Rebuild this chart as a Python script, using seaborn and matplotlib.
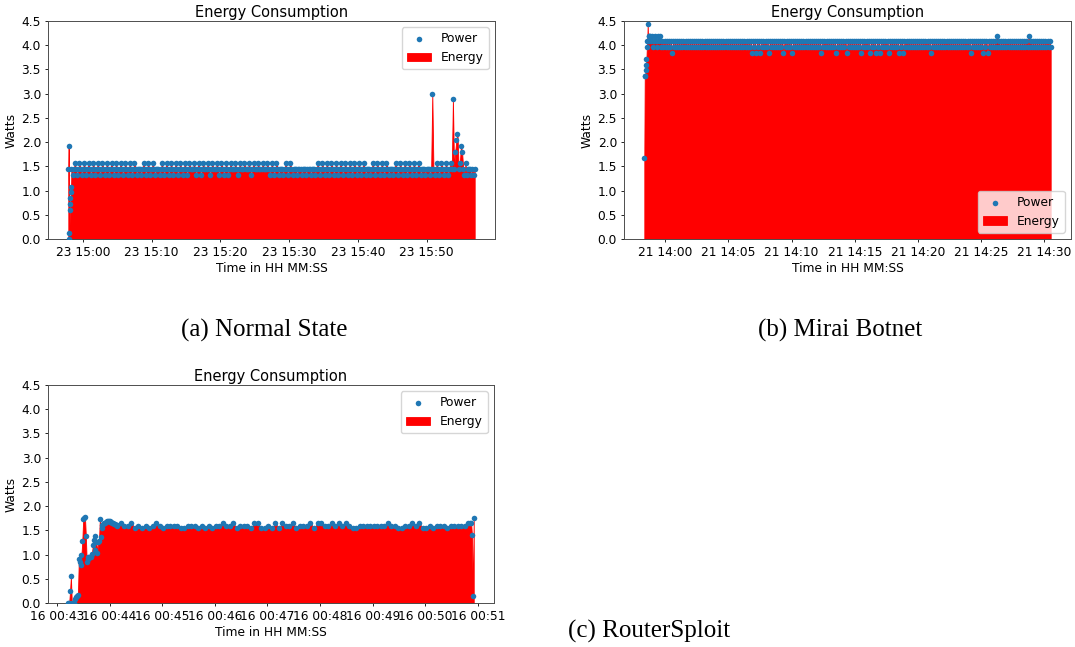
import numpy as np
import pandas as pd
import matplotlib
matplotlib.use("Agg")
import matplotlib.pyplot as plt
import matplotlib.dates as mdates
import seaborn as sns

# ---------------- data (Watts) ----------------
# (a) Normal State: start 23rd 14:57:52; head sampled every 3 s, body every 10 s
a_start = "2021-06-23 14:57:52"
a_head = [1.44, 1.92, 0.12, 0.00, 0.60, 0.72, 0.84, 0.96, 1.08]
a_body = [
    1.44, 1.32, 1.44, 1.56, 1.44, 1.32, 1.44, 1.56, 1.44, 1.32, 1.44, 1.56, 1.44, 1.32, 1.44, 1.56,
    1.44, 1.32, 1.44, 1.56, 1.44, 1.32, 1.44, 1.56, 1.44, 1.32, 1.44, 1.56, 1.44, 1.32, 1.44, 1.56,
    1.44, 1.32, 1.44, 1.56, 1.44, 1.32, 1.44, 1.56, 1.44, 1.32, 1.44, 1.56, 1.44, 1.32, 1.44, 1.56,
    1.44, 1.32, 1.44, 1.56, 1.44, 1.32, 1.44, 1.56, 1.44, 1.32, 1.44, 1.44, 1.44, 1.32, 1.44, 1.56,
    1.44, 1.32, 1.44, 1.56, 1.44, 1.32, 1.44, 1.56, 1.44, 1.32, 1.44, 1.44, 1.44, 1.32, 1.44, 1.56,
    1.44, 1.32, 1.44, 1.56, 1.44, 1.32, 1.44, 1.56, 1.44, 1.32, 1.44, 1.56, 1.44, 1.32, 1.44, 1.56,
    1.44, 1.32, 1.44, 1.56, 1.44, 1.32, 1.44, 1.56, 1.44, 1.44, 1.44, 1.56, 1.44, 1.32, 1.44, 1.56,
    1.44, 1.32, 1.44, 1.56, 1.44, 1.44, 1.44, 1.56, 1.44, 1.32, 1.44, 1.56, 1.44, 1.44, 1.44, 1.56,
    1.44, 1.32, 1.44, 1.56, 1.44, 1.32, 1.44, 1.56, 1.44, 1.32, 1.44, 1.56, 1.44, 1.44, 1.44, 1.56,
    1.44, 1.32, 1.44, 1.56, 1.44, 1.44, 1.44, 1.56, 1.44, 1.44, 1.44, 1.56, 1.44, 1.32, 1.44, 1.56,
    1.44, 1.44, 1.44, 1.56, 1.44, 1.44, 1.44, 1.56, 1.44, 1.44, 1.44, 1.56, 1.44, 1.32, 1.44, 1.56,
    1.44, 1.32, 1.44, 1.56, 1.44, 1.32, 1.44, 1.44, 1.44, 1.32, 1.44, 1.56, 1.44, 1.32, 1.44, 1.56,
    1.44, 1.32, 1.44, 1.44, 1.44, 1.32, 1.44, 1.44, 1.44, 1.32, 1.44, 1.44, 1.44, 1.32, 1.44, 1.44,
    1.44, 1.32, 1.44, 1.44, 1.44, 1.32, 1.44, 1.56, 1.44, 1.32, 1.44, 1.56, 1.44, 1.32, 1.44, 1.56,
    1.44, 1.32, 1.44, 1.56, 1.44, 1.32, 1.44, 1.56, 1.44, 1.32, 1.44, 1.56, 1.44, 1.32, 1.44, 1.56,
    1.44, 1.32, 1.44, 1.56, 1.44, 1.32, 1.44, 1.56, 1.44, 1.32, 1.44, 1.56, 1.44, 1.32, 1.44, 1.56,
    1.44, 1.32, 1.44, 1.44, 1.44, 1.32, 1.44, 1.56, 1.44, 1.32, 1.44, 1.56, 1.44, 1.32, 1.44, 1.56,
    1.44, 1.32, 1.44, 1.56, 1.44, 1.32, 1.44, 1.44, 1.44, 1.32, 1.44, 1.56, 1.44, 1.32, 1.44, 1.56,
    1.44, 1.32, 1.44, 1.56, 1.44, 1.32, 1.44, 1.56, 1.44, 1.32, 1.44, 1.56, 1.44, 1.32, 1.44, 1.56,
    1.44, 1.32, 1.44, 1.44, 1.44, 1.32, 1.44, 1.44, 1.44, 1.32, 1.44, 3.00, 1.44, 1.32, 1.44, 1.56,
    1.44, 1.32, 1.44, 1.56, 1.44, 1.32, 1.44, 1.56, 1.44, 1.32, 1.44, 1.56, 1.44, 2.89, 1.44, 1.80,
    2.04, 2.17, 1.44, 1.56, 1.92, 1.80, 1.44, 1.32, 1.56, 1.32, 1.44, 1.44, 1.44, 1.32, 1.44, 1.32,
    1.44,
]

# (b) Mirai Botnet: start 21st 13:58:20; head every 2 s, body every 5 s
b_start = "2021-06-21 13:58:20"
b_head = [1.68, 3.36, 3.36, 3.48, 3.60, 3.72, 3.96, 4.08, 4.44, 4.08, 4.20, 4.08, 4.20]
b_body = [
    4.20, 4.08, 4.20, 3.96, 4.08, 4.20, 4.08, 3.96, 4.20, 4.08, 4.20, 3.96, 4.08, 3.96, 4.08, 3.96,
    4.08, 3.96, 4.08, 3.96, 4.08, 3.84, 4.08, 3.96, 4.08, 3.96, 4.08, 3.96, 4.08, 3.96, 4.08, 3.96,
    4.08, 3.96, 4.08, 3.96, 4.08, 3.96, 4.08, 3.96, 4.08, 3.96, 4.08, 3.96, 4.08, 3.96, 4.08, 3.96,
    4.08, 3.96, 4.08, 3.96, 4.08, 3.96, 4.08, 3.96, 4.08, 3.96, 4.08, 3.96, 4.08, 3.96, 4.08, 3.96,
    4.08, 3.96, 4.08, 3.96, 4.08, 3.96, 4.08, 3.96, 4.08, 3.96, 4.08, 3.96, 4.08, 3.96, 4.08, 3.96,
    4.08, 3.96, 4.08, 3.96, 4.08, 3.96, 4.08, 3.96, 4.08, 3.96, 4.08, 3.96, 4.08, 3.96, 4.08, 3.96,
    4.08, 3.84, 4.08, 3.96, 4.08, 3.84, 4.08, 3.96, 4.08, 3.84, 4.08, 3.96, 4.08, 3.96, 4.08, 3.96,
    4.08, 3.84, 4.08, 3.96, 4.08, 3.96, 4.08, 3.96, 4.08, 3.96, 4.08, 3.96, 4.08, 3.96, 4.08, 3.84,
    4.08, 3.96, 4.08, 3.96, 4.08, 3.96, 4.08, 3.84, 4.08, 3.96, 4.08, 3.96, 4.08, 3.96, 4.08, 3.96,
    4.08, 3.96, 4.08, 3.96, 4.08, 3.96, 4.08, 3.96, 4.08, 3.96, 4.08, 3.96, 4.08, 3.96, 4.08, 3.96,
    4.08, 3.96, 4.08, 3.84, 4.08, 3.96, 4.08, 3.96, 4.08, 3.96, 4.08, 3.96, 4.08, 3.96, 4.08, 3.96,
    4.08, 3.84, 4.08, 3.96, 4.08, 3.96, 4.08, 3.96, 4.08, 3.96, 4.08, 3.84, 4.08, 3.96, 4.08, 3.96,
    4.08, 3.96, 4.08, 3.96, 4.08, 3.96, 4.08, 3.96, 4.08, 3.84, 4.08, 3.96, 4.08, 3.96, 4.08, 3.96,
    4.08, 3.84, 4.08, 3.96, 4.08, 3.96, 4.08, 3.84, 4.08, 3.96, 4.08, 3.84, 4.08, 3.96, 4.08, 3.96,
    4.08, 3.96, 4.08, 3.84, 4.08, 3.96, 4.08, 3.96, 4.08, 3.96, 4.08, 3.96, 4.08, 3.84, 4.08, 3.96,
    4.08, 3.84, 4.08, 3.96, 4.08, 3.96, 4.08, 3.96, 4.08, 3.96, 4.08, 3.96, 4.08, 3.96, 4.08, 3.96,
    4.08, 3.96, 4.08, 3.96, 4.08, 3.96, 4.08, 3.96, 4.08, 3.96, 4.08, 3.84, 4.08, 3.96, 4.08, 3.96,
    4.08, 3.96, 4.08, 3.96, 4.08, 3.96, 4.08, 3.96, 4.08, 3.96, 4.08, 3.96, 4.08, 3.96, 4.08, 3.96,
    4.08, 3.96, 4.08, 3.96, 4.08, 3.96, 4.08, 3.96, 4.08, 3.96, 4.08, 3.96, 4.08, 3.96, 4.08, 3.96,
    4.08, 3.84, 4.08, 3.96, 4.08, 3.96, 4.08, 3.96, 4.08, 3.96, 4.08, 3.96, 4.08, 3.84, 4.08, 3.96,
    4.08, 3.84, 4.08, 3.96, 4.08, 3.96, 4.08, 3.96, 4.08, 3.96, 4.20, 3.96, 4.08, 3.96, 4.08, 3.96,
    4.08, 3.96, 4.08, 3.96, 4.08, 3.96, 4.08, 3.96, 4.08, 3.96, 4.08, 3.96, 4.08, 3.96, 4.08, 3.96,
    4.08, 3.96, 4.08, 3.96, 4.08, 3.96, 4.08, 3.96, 4.20, 3.96, 4.08, 3.96, 4.08, 3.96, 4.08, 3.96,
    4.08, 3.96, 4.08, 3.96, 4.08, 3.96, 4.08, 3.96, 4.08, 3.96, 4.08, 3.96, 4.08, 3.96,
]

# (c) RouterSploit: start 16th 00:43:13; head every 1 s, body every 4 s, tail every 1 s
c_start = "2021-06-16 00:43:13"
c_head = [
    0.00, 0.00, 0.24, 0.55, 0.00, 0.00, 0.00, 0.00, 0.09, 0.12,
    0.14, 0.16, 0.90, 0.85, 0.78, 0.99, 1.29, 1.74, 1.76, 1.78,
    1.39, 0.85, 0.90, 0.95, 0.94, 0.95, 0.95, 1.02, 1.20, 1.30,
    1.39, 1.10, 1.25, 1.04, 1.25, 1.29, 1.74, 1.37, 1.55, 1.62,
    1.64, 1.66, 1.66, 1.68, 1.69, 1.69, 1.69, 1.69, 1.68, 1.68,
    1.66, 1.66, 1.64, 1.64, 1.62, 1.62,
]
c_body = [
    1.59, 1.65, 1.59, 1.59, 1.65, 1.54, 1.59, 1.54, 1.59, 1.54,
    1.59, 1.65, 1.59, 1.54, 1.59, 1.59, 1.59, 1.59, 1.54, 1.54,
    1.59, 1.59, 1.59, 1.54, 1.59, 1.54, 1.59, 1.54, 1.59, 1.59,
    1.65, 1.59, 1.59, 1.65, 1.54, 1.59, 1.59, 1.59, 1.54, 1.65,
    1.65, 1.54, 1.54, 1.59, 1.54, 1.65, 1.54, 1.65, 1.59, 1.59,
    1.65, 1.54, 1.59, 1.59, 1.59, 1.65, 1.54, 1.65, 1.65, 1.59,
    1.59, 1.65, 1.59, 1.65, 1.59, 1.65, 1.59, 1.54, 1.54, 1.59,
    1.59, 1.59, 1.59, 1.59, 1.59, 1.59, 1.59, 1.65, 1.59, 1.59,
    1.54, 1.54, 1.59, 1.59, 1.65, 1.59, 1.65, 1.54, 1.54, 1.59,
    1.54, 1.59, 1.59, 1.59, 1.54, 1.59, 1.59, 1.59, 1.59, 1.59,
    1.65,
]
c_tail = [1.65, 1.66, 1.40, 0.15, 1.76]

captions = ["(a) Normal State", "(b) Mirai Botnet", "(c) RouterSploit"]
title = "Energy Consumption"
xlabel = "Time in HH MM:SS"
ylabel = "Watts"
yticks = [0.0, 0.5, 1.0, 1.5, 2.0, 2.5, 3.0, 3.5, 4.0, 4.5]


def build(start, segments):
    """segments: list of (values, first_offset_s, step_s)"""
    t0 = pd.Timestamp(start)
    times, vals = [], []
    for values, off, step in segments:
        n = len(values)
        times.append(t0 + pd.to_timedelta(off + step * np.arange(n), unit="s"))
        vals.extend(values)
    return pd.DataFrame({"Time": np.concatenate([t.values for t in times]),
                         "Power": vals})


df_a = build(a_start, [(a_head, 0, 3), (a_body, 27, 10)])
df_b = build(b_start, [(b_head, 0, 2), (b_body, 26, 5)])
df_c = build(c_start, [(c_head, 0, 1), (c_body, 56, 4), (c_tail, 458, 1)])

# ---------------- style ----------------
plt.rcParams.update({
    "font.family": "DejaVu Sans",
    "axes.linewidth": 0.7,
    "axes.edgecolor": "#4d4d4d",
    "xtick.major.size": 2.5,
    "ytick.major.size": 2.5,
    "xtick.major.width": 0.6,
    "ytick.major.width": 0.6,
    "xtick.major.pad": 2.5,
    "ytick.major.pad": 2.5,
    "xtick.labelsize": 8.8,
    "ytick.labelsize": 8.8,
})

W, H = 1075, 647
fig = plt.figure(figsize=(W / 100, H / 100), dpi=100)


def add_axes(l, t, r, b):
    return fig.add_axes([l / W, 1 - b / H, (r - l) / W, (b - t) / H])


def draw(ax, df, locator, loc):
    ax.fill_between(df["Time"], df["Power"], color="red", linewidth=0.6,
                    label="Energy", zorder=2)
    sns.scatterplot(data=df, x="Time", y="Power", ax=ax, color="#1f77b4",
                    s=16, linewidth=0, label="Power", zorder=3)
    ax.set_ylim(0, 4.5)
    ax.set_yticks(yticks)
    ax.xaxis.set_major_locator(locator)
    ax.xaxis.set_major_formatter(mdates.DateFormatter("%d %H:%M"))
    ax.set_title(title, fontsize=10.5, pad=3)
    ax.set_xlabel(xlabel, fontsize=8.8, labelpad=2)
    ax.set_ylabel(ylabel, fontsize=8.8, labelpad=3)
    h, l = ax.get_legend_handles_labels()
    d = dict(zip(l, h))
    ax.legend([d["Power"], d["Energy"]], ["Power", "Energy"], loc=loc,
              fontsize=8.8)


ax_a = add_axes(48, 21, 495, 239)
ax_b = add_axes(624, 21, 1071, 239)
ax_c = add_axes(48, 385, 494, 603)

draw(ax_a, df_a, mdates.MinuteLocator(byminute=range(0, 60, 10)), "upper right")
draw(ax_b, df_b, mdates.MinuteLocator(byminute=range(0, 60, 5)), "lower right")
draw(ax_c, df_c, mdates.MinuteLocator(interval=1), "upper right")

cap_kw = dict(ha="center", va="baseline", fontsize=18, family="Liberation Serif")
fig.text(264 / W, 1 - 337 / H, captions[0], **cap_kw)
fig.text(840 / W, 1 - 337 / H, captions[1], **cap_kw)
fig.text(649 / W, 1 - 638 / H, captions[2], **cap_kw)

fig.savefig("out.png", dpi=100)
